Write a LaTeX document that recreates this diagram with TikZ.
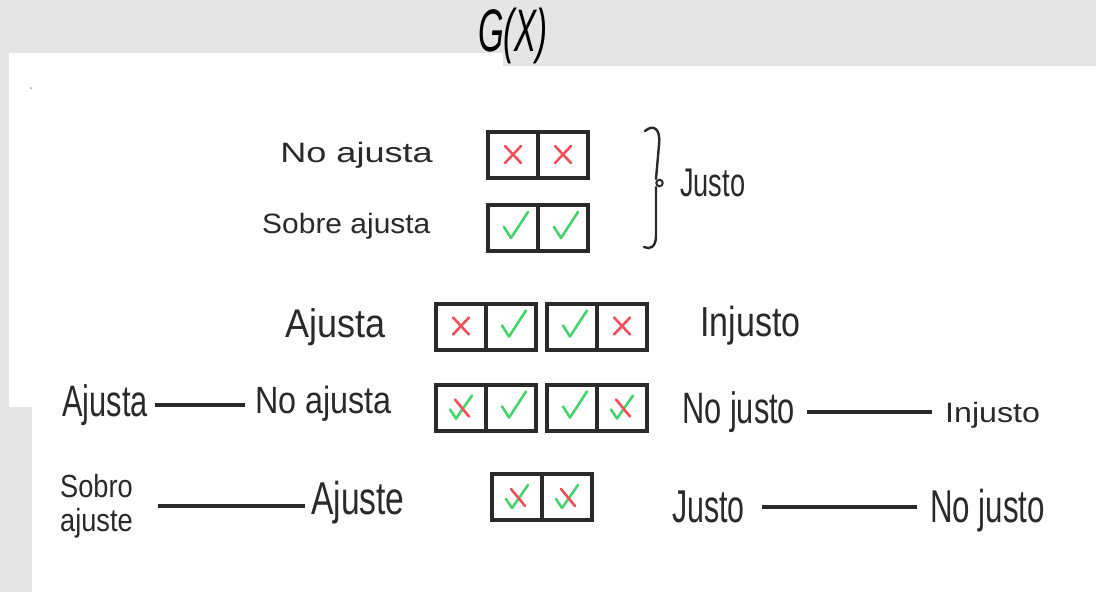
\documentclass[tikz,border=0pt]{standalone}
\usepackage{fontspec}
\setmainfont{Liberation Sans}
\definecolor{paper}{HTML}{E5E5E5}
\definecolor{ink}{HTML}{2A2A2A}
\definecolor{mkred}{RGB}{240,80,88}
\definecolor{mkgreen}{RGB}{70,210,110}
\newcommand\fsz[1]{\fontsize{#1}{#1}\selectfont}
\begin{document}
\begin{tikzpicture}[x=1pt,y=-1pt,
  lbl/.style={inner sep=0pt, text=ink, anchor=west},
  cell/.style={draw=ink, line width=4pt, minimum width=50pt, minimum height=46pt, inner sep=0pt},
  link/.style={draw=ink, line width=4pt},
  redstroke/.style={draw=mkred, line width=2.6pt, line cap=round},
  greenstroke/.style={draw=mkgreen, line width=2.6pt, line cap=round, line join=round},
  crossmk/.pic={\draw[redstroke] (-8,-9) -- (8,8) (8,-9) -- (-8,8);},
  checkmk/.pic={\draw[greenstroke] (-9,-1) -- (-2,10) -- (15,-16);},
  mixedmk/.pic={\draw[greenstroke] (-11,2) -- (-5,11) -- (11,-12);
                \draw[redstroke] (-6,-8) -- (8,9);},
]
% paper: grey ground with the white sheets laid over it
\fill[paper] (0,0) rectangle (1096,592);
\fill[white] (9,53) rectangle (503,407);
\fill[white] (503,66) rectangle (1096,592);
\fill[white] (32,407) rectangle (1096,592);
\useasboundingbox (0,0) rectangle (1096,592);
\fill[gray!70] (31,88) circle (1);

% title
\node[font=\fsz{60}\itshape, xscale=0.55, text=black, inner sep=0pt] (gx) at (513,36) {G(X)};

% row 1 and 2
\node[lbl, font=\fsz{28}, xscale=1.29] (noaj1) at (280,155) {No ajusta};
\node[lbl, font=\fsz{28}, xscale=1.07] (sobaj) at (262,226) {Sobre ajusta};
\node[cell] (r1a) at (513,155) {};
\node[cell] (r1b) at (563,155) {};
\node[cell] (r2a) at (513,228) {};
\node[cell] (r2b) at (563,228) {};
\pic at (r1a) {crossmk};
\pic at (r1b) {crossmk};
\pic at (r2a) {checkmk};
\pic at (r2b) {checkmk};

% brace grouping rows 1 and 2
\draw[ink, line width=2.4pt, line cap=round]
  (645,131) .. controls (653,124) and (661,128) .. (659,145) -- (656,179);
\draw[ink, line width=2.4pt, line cap=round]
  (656,187) -- (656,236) .. controls (656,247) and (650,250) .. (644,247);
\draw[ink, line width=2pt] (659.5,183) circle (3.2);
\node[lbl, font=\fsz{40}, xscale=0.68] (justo1) at (680,183) {Justo};

% row 3
\node[lbl, font=\fsz{40}, xscale=0.9] (aj3) at (285,327) {Ajusta};
\node[cell] (r3a) at (461,326.5) {};
\node[cell] (r3b) at (511,326.5) {};
\node[cell] (r3c) at (572,326.5) {};
\node[cell] (r3d) at (622,326.5) {};
\pic at (r3a) {crossmk};
\pic at (r3b) {checkmk};
\pic at (r3c) {checkmk};
\pic at (r3d) {crossmk};
\node[lbl, font=\fsz{42}, xscale=0.81] (inj3) at (700,326) {Injusto};

% row 4
\node[lbl, font=\fsz{44}, xscale=0.70] (aj4) at (62,405) {Ajusta};
\node[lbl, font=\fsz{38}, xscale=0.85] (noaj4) at (255,404) {No ajusta};
\node[cell] (r4a) at (461,407.5) {};
\node[cell] (r4b) at (511,407.5) {};
\node[cell] (r4c) at (572,407.5) {};
\node[cell] (r4d) at (622,407.5) {};
\pic at (r4a) {mixedmk};
\pic at (r4b) {checkmk};
\pic at (r4c) {checkmk};
\pic at (r4d) {mixedmk};
\node[lbl, font=\fsz{44}, xscale=0.70] (noj4) at (682,412) {No justo};
\node[lbl, font=\fsz{28}, xscale=1.15] (inj4) at (945,415) {Injusto};
\draw[link, shorten <=7pt, shorten >=10pt] (aj4.east) -- (aj4.east -| noaj4.west);
\draw[link, shorten <=12pt, shorten >=13pt] (noj4.east) -- (noj4.east -| inj4.west);

% row 5
\node[lbl, font=\fontsize{32}{34}\selectfont, xscale=0.85, align=left] (sobaj5) at (60,506) {Sobro\\ajuste};
\node[lbl, font=\fsz{46}, xscale=0.73] (aj5) at (311,503) {Ajuste};
\node[cell] (r5a) at (517,497) {};
\node[cell] (r5b) at (567,497) {};
\pic at (r5a) {mixedmk};
\pic at (r5b) {mixedmk};
\node[lbl, font=\fsz{46}, xscale=0.66] (j5) at (672,507) {Justo};
\node[lbl, font=\fsz{46}, xscale=0.68] (noj5) at (930,511) {No justo};
\draw[link, shorten <=25pt, shorten >=6pt] (sobaj5.east) -- (sobaj5.east -| aj5.west);
\draw[link, shorten <=17pt, shorten >=13pt] (j5.east) -- (j5.east -| noj5.west);
\end{tikzpicture}
\end{document}
